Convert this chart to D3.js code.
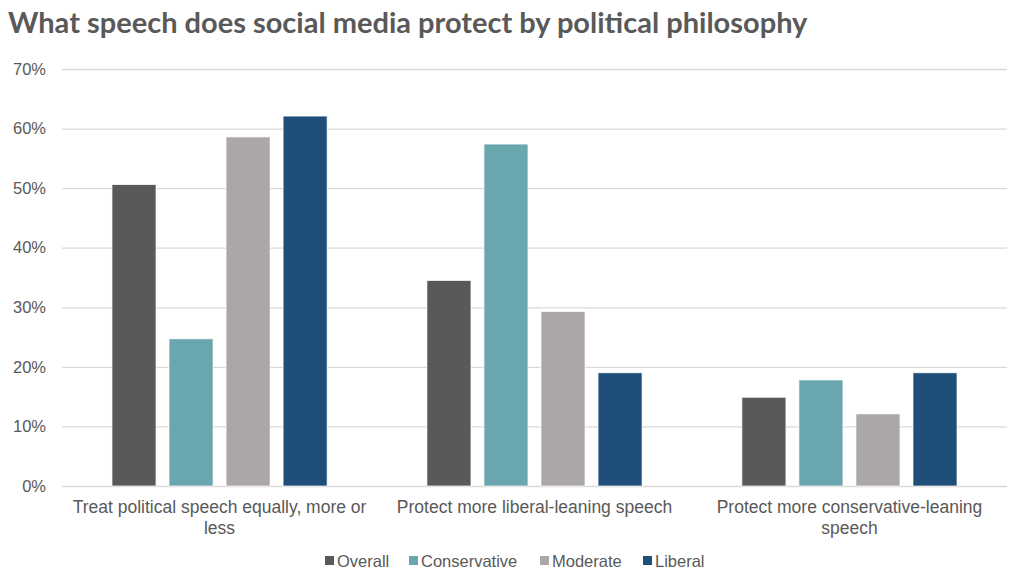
<!DOCTYPE html>
<html>
<head>
<meta charset="utf-8">
<script src="https://cdn.jsdelivr.net/npm/d3@7"></script>
<style>
  body { margin: 0; background: #fff; }
  text { font-family: "Liberation Sans", Arial, sans-serif; fill: #595959; }
  .title { font-family: Lato, sans-serif; font-weight: bold; }
</style>
</head>
<body>
<div id="chart-area"></div>
<script>
// answers to "what speech does social media protect", split by political philosophy
var categories = ["Treat political speech equally, more or less",
                  "Protect more liberal-leaning speech",
                  "Protect more conservative-leaning speech"];
var seriesNames = ["Overall", "Conservative", "Moderate", "Liberal"];
var seriesColors = ["#595959", "#69A6AE", "#AAA7A6", "#1F4E79"];

var overall = [0.506, 0.345, 0.149];
var conservative = [0.247, 0.574, 0.178];
var moderate = [0.586, 0.293, 0.121];
var liberal = [0.621, 0.190, 0.190];
var yTicks = [0, 0.1, 0.2, 0.3, 0.4, 0.5, 0.6, 0.7];

var seriesValues = [overall, conservative, moderate, liberal];

var width = 1024, height = 584;
var margin = { top: 69, right: 17, bottom: 98, left: 62 };

var svg = d3.select("#chart-area").append("svg")
      .attr("width", width)
      .attr("height", height);

svg.append("text")
    .attr("class", "title")
    .attr("x", 8)
    .attr("y", 33)
    .style("font-size", "29px")
    .text("What speech does social media protect by political philosophy");

var x0 = d3.scaleBand()
    .domain(categories)
    .range([margin.left, width - margin.right])
    .paddingInner(0.317)
    .paddingOuter(0.1587);

var x1 = d3.scaleBand()
    .domain(seriesNames)
    .range([0, x0.bandwidth()])
    .paddingInner(0.228)
    .paddingOuter(0);

var y = d3.scaleLinear()
    .domain([0, 0.7])
    .range([height - margin.bottom, margin.top]);

// gridlines + y labels
var yAxis = d3.axisLeft(y)
    .tickValues(yTicks)
    .tickFormat(d3.format(".0%"))
    .tickSize(-(width - margin.left - margin.right))
    .tickPadding(16);

var gy = svg.append("g")
    .attr("transform", "translate(" + margin.left + ",0)")
    .call(yAxis);
gy.select(".domain").remove();
gy.selectAll(".tick line").attr("stroke", "#d9d9d9").attr("stroke-width", 1.3);
gy.selectAll(".tick text").style("font-size", "16.5px").style("fill", "#595959");

// bars
var groups = svg.selectAll("g.group")
    .data(categories)
    .enter().append("g")
    .attr("class", "group")
    .attr("transform", function(d) { return "translate(" + x0(d) + ",0)"; });

groups.selectAll("rect")
    .data(function(d, i) {
        return seriesNames.map(function(s, j) {
            return { name: s, value: seriesValues[j][i], color: seriesColors[j] };
        });
    })
    .enter().append("rect")
    .attr("x", function(d) { return x1(d.name); })
    .attr("width", x1.bandwidth())
    .attr("y", function(d) { return y(d.value); })
    .attr("height", function(d) { return y(0) - y(d.value); })
    .attr("fill", function(d) { return d.color; })
    .attr("stroke", "#ffffff")
    .attr("stroke-width", 0.7);

// x labels
var xAxis = d3.axisBottom(x0).tickSize(0).tickPadding(15);
var gx = svg.append("g")
    .attr("transform", "translate(0," + y(0) + ")")
    .call(xAxis);
gx.select(".domain").remove();
gx.selectAll(".tick text")
    .style("font-size", "17.5px")
    .style("fill", "#595959")
    .call(wrap, 310);

function wrap(sel, w) {
    sel.each(function() {
        var text = d3.select(this),
            words = text.text().split(/\s+/),
            line = [],
            dy = text.attr("dy"),
            tspan = text.text(null).append("tspan").attr("x", 0).attr("dy", dy);
        words.forEach(function(word) {
            line.push(word);
            tspan.text(line.join(" "));
            if (tspan.node().getComputedTextLength() > w && line.length > 1) {
                line.pop();
                tspan.text(line.join(" "));
                line = [word];
                tspan = text.append("tspan").attr("x", 0).attr("dy", "1.15em").text(word);
            }
        });
    });
}

// legend
var legendX = [325, 409, 540, 643];
var legend = svg.append("g");
var items = legend.selectAll("g")
    .data(seriesNames)
    .enter().append("g")
    .attr("transform", function(d, i) { return "translate(" + legendX[i] + ",556)"; });
items.append("rect")
    .attr("width", 9)
    .attr("height", 9)
    .attr("fill", function(d, i) { return seriesColors[i]; });
items.append("text")
    .attr("x", 12)
    .attr("y", 10.5)
    .style("font-size", "16.5px")
    .text(function(d) { return d; });
</script>
</body>
</html>
